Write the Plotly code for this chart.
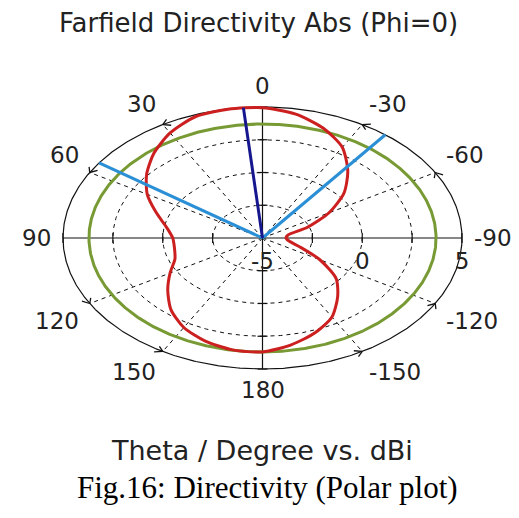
import numpy as np
import plotly.graph_objects as go

# ---------------- data ----------------
theta_deg = [-180, -170, -160, -150, -140, -130, -120, -110, -100, -90, -80, -70, -60, -50,
             -40, -30, -20, -10, 0, 10, 20, 30, 40, 50, 60, 70, 80, 90, 100, 110, 120,
             130, 140, 150, 160, 170, 180]
directivity_dbi = [3.70, 3.28, 2.70, 1.96, 0.86, -0.18, -1.68, -3.00, -3.65, -3.82, -3.70, -2.60,
                   -1.15, 0.33, 1.65, 3.00, 3.92, 4.60, 4.95, 4.98, 4.85, 4.26, 3.46, 2.58,
                   1.67, 0.67, -0.10, -0.50, -0.52, -0.33, 0.35, 1.20, 2.14, 2.89, 3.38,
                   3.67, 3.70]
green_level_dbi = 3.7
main_lobe_theta = 5.5
main_lobe_dbi = 5.0
beamwidth_edges_theta = [55.0, -38.0]

r_min, r_max = -5.0, 5.0
ring_values = [-2.5, 0.0, 2.5, 5.0]
radial_tick_labels = ["-5", "0", "5"]
radial_tick_values = [-5.0, 0.0, 5.0]
angle_tick_values = [0, 30, 60, 90, 120, 150, 180, -150, -120, -90, -60, -30]
angle_tick_labels = ["0", "30", "60", "90", "120", "150", "180", "-150", "-120", "-90", "-60", "-30"]
dashed_spokes = [30, 60, 120, 150, -150, -120, -60, -30]

title_text = "Farfield Directivity Abs (Phi=0)"
axis_text = "Theta / Degree vs. dBi"
caption_text = "Fig.16: Directivity (Polar plot)"

# ---------------- helpers ----------------
W, H = 519, 518
CX, CY = 262.5, 238.0
RX, RY = 199.5, 131.0
SPAN = r_max - r_min
x_range = [-CX / RX * SPAN, (W - CX) / RX * SPAN]
y_range = [-(H - CY) / RY * SPAN, CY / RY * SPAN]
ux = SPAN / RX  # data units per pixel horizontally
uy = SPAN / RY
LABEL_FONT = dict(family="DejaVu Sans", size=23, color="#222222")


def to_xy(theta, val):
    t = np.radians(np.asarray(theta, dtype=float))
    r = np.asarray(val, dtype=float) - r_min
    return -r * np.sin(t), r * np.cos(t)


fig = go.Figure()
full = np.linspace(-180, 180, 721)
black = "#111111"

# dashed grid circles
for rv in ring_values[:-1]:
    x, y = to_xy(full, np.full_like(full, rv))
    fig.add_trace(go.Scatter(x=x, y=y, mode="lines",
                             line=dict(color=black, width=1, dash="4px,4px")))
# dashed spokes
for a in dashed_spokes:
    x, y = to_xy([a, a], [r_min, r_max])
    fig.add_trace(go.Scatter(x=x, y=y, mode="lines",
                             line=dict(color=black, width=1, dash="4px,4px")))
# outer circle
x, y = to_xy(full, np.full_like(full, r_max))
fig.add_trace(go.Scatter(x=x, y=y, mode="lines", line=dict(color=black, width=1.2)))
# solid axes
for a in [0, 90]:
    x, y = to_xy([a, a + 180], [r_max, r_max])
    fig.add_trace(go.Scatter(x=x, y=y, mode="lines", line=dict(color=black, width=1.2)))
# axis ticks
tx, ty = [], []
for rv in ring_values:
    r = rv - r_min
    for sgn in (1, -1):
        tx += [sgn * r, sgn * r, None]
        ty += [-5 * uy, 5 * uy, None]
        tx += [-5 * ux, 5 * ux, None]
        ty += [sgn * r, sgn * r, None]
fig.add_trace(go.Scatter(x=tx, y=ty, mode="lines", line=dict(color=black, width=1.2)))
# small arrow-like marks on outer circle
ox, oy = [], []
for a in dashed_spokes:
    for da, dr in [(-2.0, -0.25), (-2.0, 0.25)]:
        x, y = to_xy([a, a + da], [r_max, r_max + dr])
        ox += list(x) + [None]
        oy += list(y) + [None]
fig.add_trace(go.Scatter(x=ox, y=oy, mode="lines", line=dict(color=black, width=1.3)))

# green level circle
x, y = to_xy(full, np.full_like(full, green_level_dbi))
fig.add_trace(go.Scatter(x=x, y=y, mode="lines", line=dict(color="#789a34", width=3)))
# red directivity
x, y = to_xy(theta_deg, directivity_dbi)
fig.add_trace(go.Scatter(x=x, y=y, mode="lines",
                         line=dict(color="#cc1f1f", width=3, shape="spline", smoothing=0.7)))
# beamwidth lines
for a in beamwidth_edges_theta:
    x, y = to_xy([a, a], [r_min, r_max])
    fig.add_trace(go.Scatter(x=x, y=y, mode="lines", line=dict(color="#2b8fd6", width=3)))
# main lobe direction
x, y = to_xy([main_lobe_theta, main_lobe_theta], [r_min, main_lobe_dbi])
fig.add_trace(go.Scatter(x=x, y=y, mode="lines", line=dict(color="#16168f", width=3)))

# radial labels
rx_ = [v - r_min for v in radial_tick_values]
fig.add_trace(go.Scatter(x=rx_, y=[-25 * uy] * len(rx_), mode="text", text=radial_tick_labels,
                         textposition="middle center", textfont=LABEL_FONT))

fig.update_traces(hoverinfo="skip", showlegend=False)

# angular labels, anchored at the corner facing the circle
annotations = []
for a, lab in zip(angle_tick_values, angle_tick_labels):
    lx, ly = to_xy([a], [r_max + 0.55])
    if a in (0, 180):
        xa = "center"
    elif a > 0:
        xa = "right"
    else:
        xa = "left"
    if a in (90, -90):
        ya = "middle"
    elif abs(a) < 90:
        ya = "bottom"
    else:
        ya = "top"
    annotations.append(dict(text=lab, x=float(lx[0]), y=float(ly[0]), xref="x", yref="y",
                            showarrow=False, xanchor=xa, yanchor=ya, borderpad=0,
                            font=LABEL_FONT))

annotations += [
    dict(text=title_text, x=0.499, y=1 - 23 / H, xref="paper", yref="paper",
         showarrow=False, xanchor="center", yanchor="middle",
         font=dict(family="DejaVu Sans", size=26, color="#222222")),
    dict(text=axis_text, x=0.505, y=1 - 450 / H, xref="paper", yref="paper",
         showarrow=False, xanchor="center", yanchor="middle",
         font=dict(family="DejaVu Sans", size=27, color="#222222")),
    dict(text=caption_text, x=0.515, y=1 - 487 / H, xref="paper", yref="paper",
         showarrow=False, xanchor="center", yanchor="middle",
         font=dict(family="Liberation Serif", size=31, color="#000000")),
]

fig.update_layout(
    width=W, height=H,
    margin=dict(l=0, r=0, t=0, b=0),
    paper_bgcolor="white", plot_bgcolor="white",
    xaxis=dict(range=x_range, visible=False, fixedrange=True),
    yaxis=dict(range=y_range, visible=False, fixedrange=True),
    annotations=annotations,
)

fig.write_html("out.html")
